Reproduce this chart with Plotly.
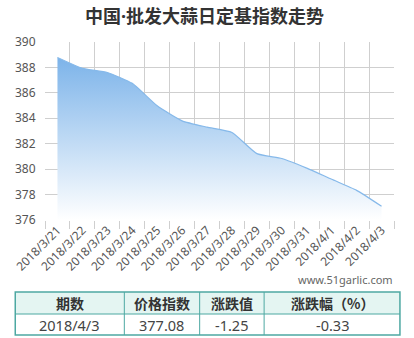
import plotly.graph_objects as go

# ---- data ----
dates = ["2018/3/21", "2018/3/22", "2018/3/23", "2018/3/24", "2018/3/25", "2018/3/26",
         "2018/3/27", "2018/3/28", "2018/3/29", "2018/3/30", "2018/3/31", "2018/4/1",
         "2018/4/2", "2018/4/3"]
index_values = [388.78, 387.93, 387.6, 386.75, 384.98, 383.8, 383.3, 382.88, 381.22,
                380.84, 380.08, 379.2, 378.33, 377.08]
y_ticks = [376, 378, 380, 382, 384, 386, 388, 390]
title_text = "中国·批发大蒜日定基指数走势"
watermark = "www.51garlic.com"
table_header = ["期数", "价格指数", "涨跌值", "涨跌幅（%）"]
table_row = ["2018/4/3", "377.08", "-1.25", "-0.33"]

# ---- layout helpers (pixel -> paper) ----
W, H = 414, 338
L, R, T, B = 42, 20, 42, 118
PW, PH = W - L - R, H - T - B

def px(x):
    return (x - L) / PW

def py(y):
    return (H - B - y) / PH

FONT = "Noto Sans, Noto Sans CJK SC, sans-serif"
CJK = "Noto Sans CJK SC, sans-serif"

fig = go.Figure()
fig.add_trace(go.Scatter(
    x=dates, y=index_values, mode="lines",
    line=dict(color="#86b9ea", width=1.2, shape="spline", smoothing=0.5),
    fill="tozeroy",
    fillgradient=dict(type="vertical", start=376, stop=389,
                      colorscale=[[0, "rgba(255,255,255,1)"], [1, "rgb(122,178,233)"]]),
    hoverinfo="skip", showlegend=False,
))

fig.update_layout(
    width=W, height=H,
    margin=dict(l=L, r=R, t=T, b=B),
    paper_bgcolor="white", plot_bgcolor="white",
    font=dict(family=FONT, size=12, color="#555"),
    xaxis=dict(type="category", range=[-0.5, 13.5], tickson="boundaries",
               showgrid=True, gridcolor="#cfcfcf", gridwidth=1,
               ticks="outside", ticklen=8, tickcolor="#cfcfcf",
               tickangle=-45, tickfont=dict(size=12, color="#555", family=FONT),
               showline=False, zeroline=False, fixedrange=True),
    yaxis=dict(range=[376, 390], tickvals=y_ticks, showgrid=True, gridcolor="#cfcfcf",
               gridwidth=1, zeroline=False, showline=False,
               ticks="outside", ticklen=6, tickcolor="rgba(0,0,0,0)",
               tickfont=dict(size=12, color="#555", family=FONT), fixedrange=True),
)

annotations = [
    dict(text="<b>" + title_text + "</b>", x=px(203), y=py(16), xref="paper", yref="paper",
         showarrow=False, font=dict(size=18, color="#333", family=FONT),
         xanchor="center", yanchor="middle"),
    dict(text=watermark, x=px(395), y=py(279), xref="paper", yref="paper",
         showarrow=False, font=dict(size=11, color="#666", family=FONT),
         xanchor="right", yanchor="middle"),
]

# table geometry
col_edges = [12, 122, 198, 263, 400]
t_top, t_mid, t_bot = 292, 314, 335
border = "#4da8a2"
shapes = [
    dict(type="rect", xref="paper", yref="paper", x0=px(12), x1=px(400), y0=py(t_mid), y1=py(t_top),
         fillcolor="#e4f5f2", line=dict(width=0), layer="below"),
    dict(type="rect", xref="paper", yref="paper", x0=px(12), x1=px(400), y0=py(t_bot), y1=py(t_top),
         fillcolor="rgba(0,0,0,0)", line=dict(color=border, width=1.5)),
    dict(type="line", xref="paper", yref="paper", x0=px(12), x1=px(400), y0=py(t_mid), y1=py(t_mid),
         line=dict(color=border, width=1)),
]
for xe in col_edges[1:-1]:
    shapes.append(dict(type="line", xref="paper", yref="paper", x0=px(xe), x1=px(xe),
                       y0=py(t_bot), y1=py(t_top), line=dict(color=border, width=1)))

for i in range(4):
    cx = (col_edges[i] + col_edges[i + 1]) / 2
    annotations.append(dict(text="<b>" + table_header[i] + "</b>", x=px(cx), y=py((t_top + t_mid) / 2),
                            xref="paper", yref="paper", showarrow=False,
                            font=dict(size=14, color="#333", family=CJK),
                            xanchor="center", yanchor="middle"))
    annotations.append(dict(text=table_row[i], x=px(cx), y=py((t_mid + t_bot) / 2),
                            xref="paper", yref="paper", showarrow=False,
                            font=dict(size=14.5, color="#444", family=FONT),
                            xanchor="center", yanchor="middle"))

fig.update_layout(annotations=annotations, shapes=shapes)
fig.write_html("out.html", config={"displayModeBar": False})
